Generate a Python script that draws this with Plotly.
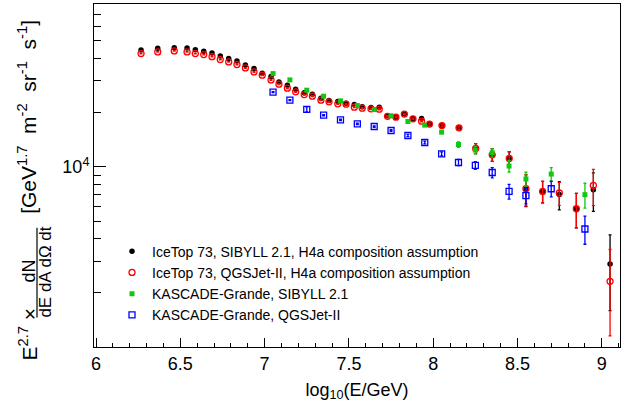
import plotly.graph_objects as go

# ---------------- data ----------------
it_x = [6.267, 6.366, 6.464, 6.540, 6.589, 6.639, 6.688, 6.737, 6.787, 6.836,
        6.886, 6.937, 6.986, 7.038, 7.085, 7.135, 7.184, 7.235, 7.283, 7.334,
        7.382, 7.434, 7.483, 7.532, 7.579, 7.631, 7.680, 7.729, 7.779, 7.829,
        7.880, 7.931, 7.978, 8.052, 8.153, 8.252, 8.350, 8.451, 8.550, 8.649,
        8.748, 8.849, 8.950, 9.049]
it_sib_y = [44490, 45460, 45800, 45630, 44650, 43750, 42800, 41200, 39810, 38660,
            36730, 35040, 33040, 31640, 29570, 28350, 26940, 25700, 25270, 24020,
            23290, 23000, 22540, 22130, 21500, 21300, 21360, 19160, 18850, 19610,
            18450, 18510, 17240, 16930, 16440, 12630, 11650, 11110, 7520, 7300,
            7020, 5850, 7460, 2890]
it_sib_err = [150, 150, 150, 150, 150, 150, 150, 150, 150, 150,
              150, 150, 150, 150, 150, 150, 150, 150, 150, 150,
              150, 150, 150, 150, 150, 150, 150, 150, 150, 150,
              150, 150, 200, 250, 300, 800, 950, 1000, 1500, 1000,
              1250, 1270, 1800, 1300]
it_qgs_y = [42440, 43370, 43920, 43370, 42440, 41900, 40830, 39300, 38170, 36870,
            35350, 33600, 32210, 30330, 28720, 27290, 26030, 25150, 24640, 23410,
            22910, 22340, 22250, 21410, 21140, 20950, 20870, 19040, 18850, 19610,
            18450, 17910, 17240, 16930, 16440, 12630, 11650, 11110, 7550, 7300,
            7150, 5850, 7880, 2314]
it_qgs_err = [150, 150, 150, 150, 150, 150, 150, 150, 150, 150,
              150, 150, 150, 150, 150, 150, 150, 150, 150, 150,
              150, 150, 150, 150, 150, 150, 150, 150, 150, 150,
              150, 150, 200, 250, 300, 800, 950, 1000, 1500, 1000,
              1050, 1270, 1800, 1160]

kg_x = [7.05, 7.15, 7.25, 7.35, 7.45, 7.55, 7.65, 7.75, 7.85, 7.95,
        8.05, 8.15, 8.25, 8.35, 8.45, 8.55, 8.70, 8.90]
kg_sib_y = [32880, 30330, 26600, 24640, 23200, 21850, 20760, 19160, 17820, 17020,
            15570, 13290, 12380, 11960, 10090, 8560, 9110, 7000]
kg_sib_err = [150, 150, 150, 150, 150, 150, 150, 150, 200, 250,
              300, 460, 570, 620, 740, 760, 770, 1100]
kg_qgs_y = [25930, 23410, 20820, 19330, 18210, 17310, 16720, 15890, 14910, 13630,
            11800, 10560, 10170, 9290, 7300, 6910, 7550, 4516]
kg_qgs_err = [150, 150, 670, 150, 150, 150, 150, 150, 200, 250,
              300, 420, 500, 610, 680, 690, 750, 800]

names = ["IceTop 73, SIBYLL 2.1, H4a composition assumption",
         "IceTop 73, QGSJet-II, H4a composition assumption",
         "KASCADE-Grande, SIBYLL 2.1",
         "KASCADE-Grande, QGSJet-II"]

x_ticks = [6, 6.5, 7, 7.5, 8, 8.5, 9]
x_ticktext = ["6", "6.5", "7", "7.5", "8", "8.5", "9"]
y_minor = [2000, 3000, 4000, 5000, 6000, 7000, 8000, 9000,
           20000, 30000, 40000, 50000, 60000, 70000, 80000]

FONT = "Liberation Sans, Arial, sans-serif"

# plot area in pixels
L, R, T, B = 94, 620, 4, 347.5
W, H = 622, 408


def px(xp):
    return (xp - L) / (R - L)


def py(yp):
    return (B - yp) / (B - T)


fig = go.Figure()


def add(x, y, err, name, symbol, color, size, lw):
    fig.add_trace(go.Scatter(
        x=x, y=y, mode="markers", name=name, legendgroup=name,
        marker=dict(symbol=symbol, color=color, size=size,
                    line=dict(color=color, width=lw)),
        error_y=dict(type="data", array=err, color=color, thickness=1.3, width=1.5),
    ))


add(it_x, it_sib_y, it_sib_err, names[0], "circle", "#000000", 5.5, 0)
add(it_x, it_qgs_y, it_qgs_err, names[1], "circle-open", "#ff0000", 6, 1.3)
add(kg_x, kg_sib_y, kg_sib_err, names[2], "square", "#10c810", 5, 0)
add(kg_x, kg_qgs_y, kg_qgs_err, names[3], "square-open", "#0000ff", 6, 1.3)

fig.update_layout(
    width=W, height=H,
    margin=dict(l=L, r=W - R, t=T, b=H - B),
    paper_bgcolor="white", plot_bgcolor="white",
    font=dict(family=FONT, color="black"),
    showlegend=True,
    legend=dict(x=px(112), y=py(236), xanchor="left", yanchor="top",
                font=dict(size=14, family=FONT, color="black"),
                bgcolor="rgba(0,0,0,0)", traceorder="grouped",
                tracegroupgap=0, itemsizing="trace"),
    xaxis=dict(range=[5.988, 9.108], tickvals=x_ticks, ticktext=x_ticktext,
               ticks="inside", ticklen=9, tickwidth=1, tickcolor="black",
               showline=True, linecolor="black", linewidth=1, mirror=True,
               showgrid=False, zeroline=False,
               minor=dict(ticks="inside", ticklen=4.5, dtick=0.1, tick0=6,
                          tickcolor="black", showgrid=False),
               tickfont=dict(size=18, family=FONT),
               title=dict(text="log<sub>10</sub>(E/GeV)", font=dict(size=18, family=FONT),
                          standoff=10)),
    yaxis=dict(type="log", range=[3, 4.903], tickvals=[10000], ticktext=["10<sup>4</sup>"],
               ticks="inside", ticklen=12, tickwidth=1, tickcolor="black",
               showline=True, linecolor="black", linewidth=1, mirror=True,
               showgrid=False, zeroline=False,
               minor=dict(ticks="inside", ticklen=7, tickvals=y_minor,
                          tickcolor="black", showgrid=False),
               tickfont=dict(size=18, family=FONT), title=dict(text="")),
)

# y-axis title built from pieces (rotated), ROOT-like fraction
def ann(size):
    return dict(xref="paper", yref="paper", showarrow=False, textangle=-90,
                xanchor="center", yanchor="middle",
                font=dict(size=size, family=FONT, color="black"))


NB = "\u00a0"
fig.add_annotation(text="E<sup>2.7</sup> ×", x=px(28), y=py(335), **ann(21))
fig.add_annotation(text="dN", x=px(29), y=py(272), **ann(18))
fig.add_annotation(text="dE dA dΩ dt", x=px(46), y=py(273), **ann(17))
fig.add_annotation(text="[GeV<sup>1.7</sup>" + NB + " m<sup>-2</sup>" + NB + " sr<sup>-1</sup>"
                        + NB + " s<sup>-1</sup>]",
                   x=px(27), y=py(117), **ann(21))
fig.add_shape(type="line", xref="paper", yref="paper",
              x0=px(37), x1=px(37), y0=py(228), y1=py(318),
              line=dict(color="black", width=1.2))

fig.write_html("out.html")
